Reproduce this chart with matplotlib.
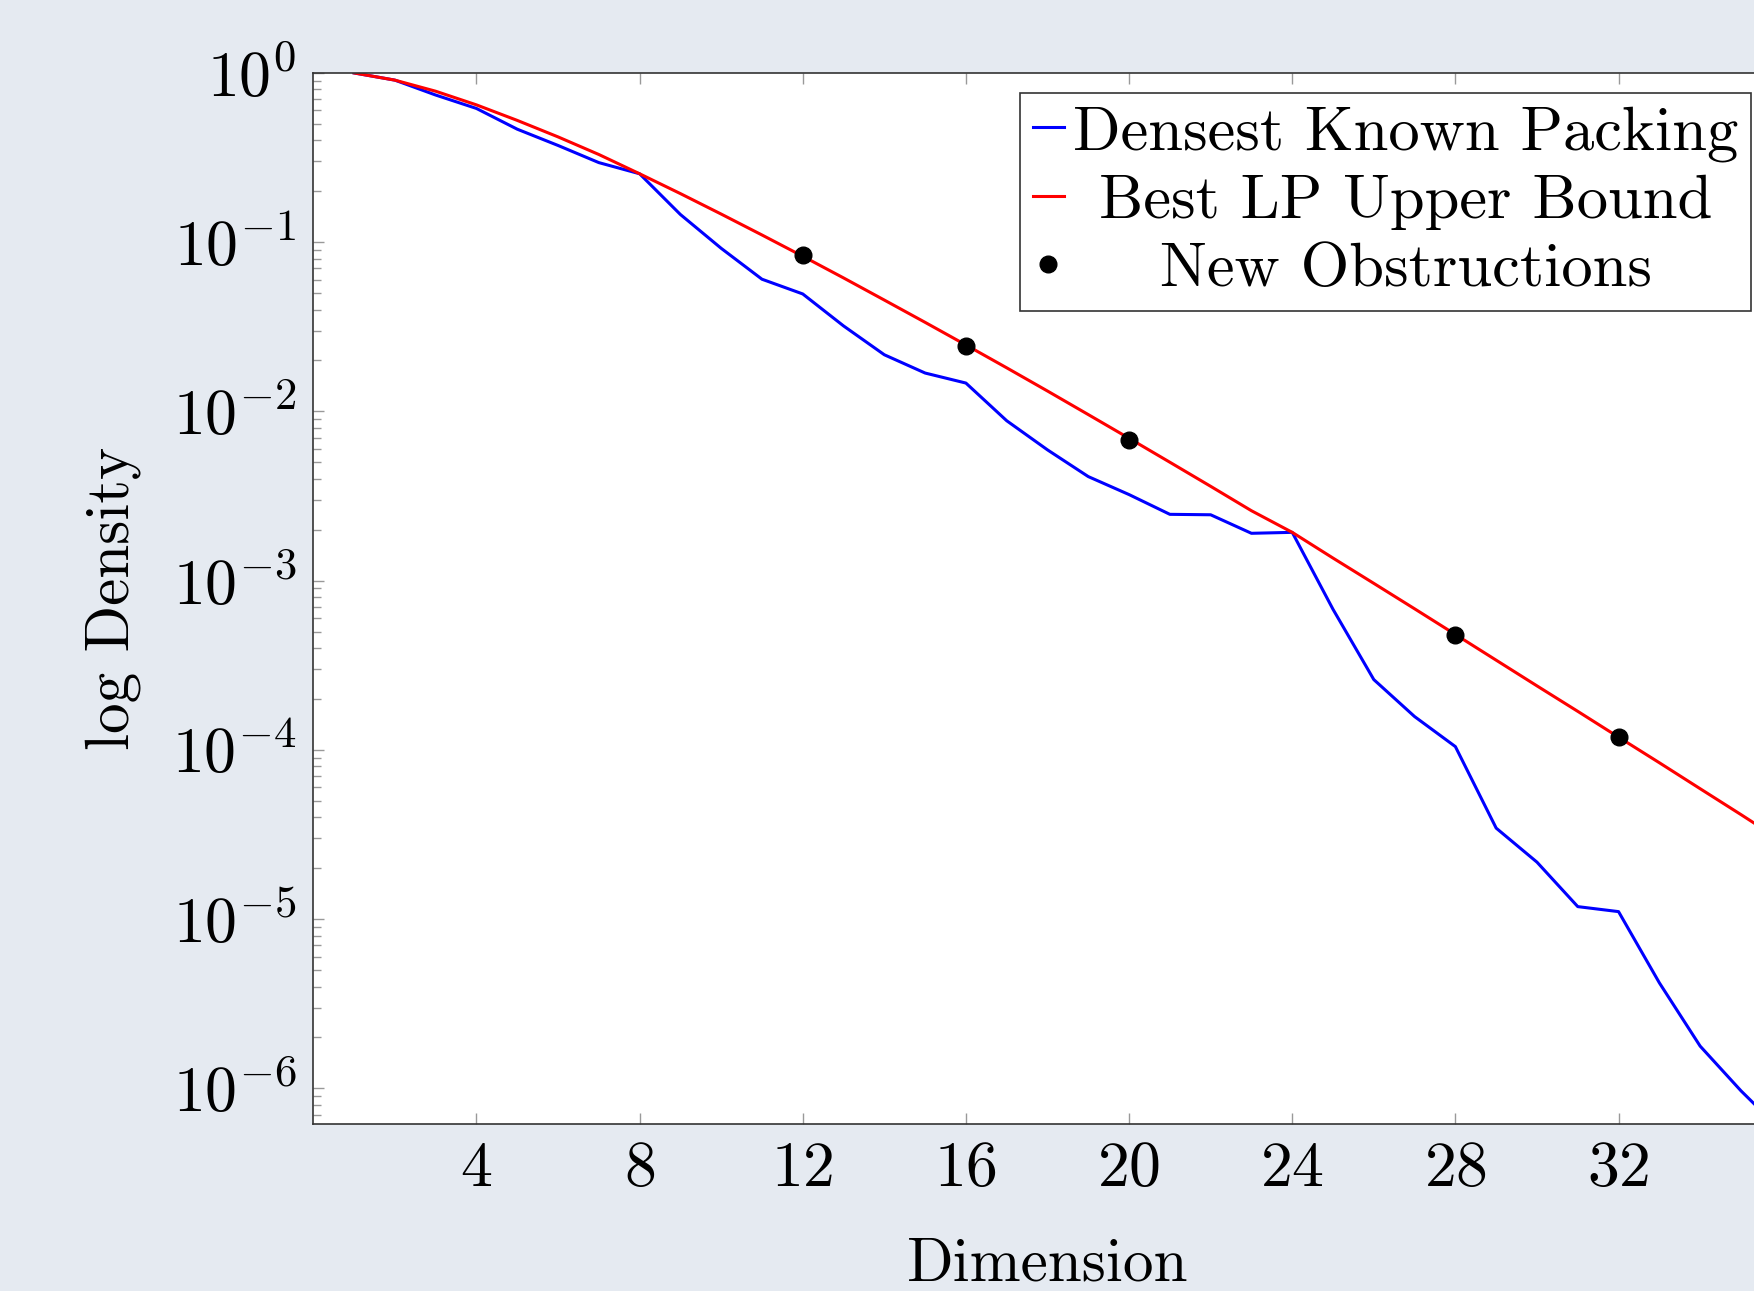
import matplotlib
matplotlib.use("Agg")
import matplotlib.pyplot as plt
import numpy as np

plt.rcParams['font.family'] = 'cmr10'
plt.rcParams['mathtext.fontset'] = 'cm'
plt.rcParams['axes.formatter.use_mathtext'] = True

dims = np.arange(1, 37)
densest = np.array([1.0, 0.9069, 0.7405, 0.6169, 0.4653, 0.3729, 0.2953, 0.2537,
                    0.1458, 0.09202, 0.06043, 0.04945, 0.03201, 0.02162, 0.01686, 0.01471,
                    0.008811, 0.005928, 0.004121, 0.003226, 0.002466, 0.002451, 0.001905, 0.001930,
                    6.772e-4, 2.603e-4, 1.574e-4, 1.046e-4, 3.451e-5, 2.172e-5, 1.186e-5, 1.108e-5,
                    4.207e-6, 1.778e-6, 9.685e-7, 5.6e-7])
lp_bound = np.array([1.0, 0.9069, 0.7799, 0.6477, 0.5244, 0.4190, 0.3298, 0.2537,
                     0.1937, 0.1466, 0.1103, 0.0826, 0.0615, 0.0455, 0.0336, 0.0247,
                     0.0181, 0.0132, 0.00958, 0.00694, 0.00501, 0.00361, 0.00259, 0.00193,
                     0.00136, 9.64e-4, 6.82e-4, 4.81e-4, 3.39e-4, 2.39e-4, 1.69e-4, 1.19e-4,
                     8.4e-5, 5.9e-5, 4.15e-5, 2.9e-5])
obs_dims = np.array([12, 16, 20, 28, 32])
obs_vals = np.array([0.0837, 0.0245, 0.0068, 0.00048, 0.00012])
xticks = [4, 8, 12, 16, 20, 24, 28, 32]

bg = '#E5EAF1'
fig = plt.figure(figsize=(17.54, 12.91), dpi=100, facecolor=bg)
ax = fig.add_axes([0.1786, 0.1294, 0.8372, 0.8141])

ax.plot(dims, densest, color='blue', lw=2.2, label='Densest Known Packing')
ax.plot(dims, lp_bound, color='red', lw=2.2, label='Best LP Upper Bound')
ax.plot(obs_dims, obs_vals, 'o', color='black', ms=12, label='New Obstructions', zorder=5)

ax.set_yscale('log')
ax.set_xlim(0, 36)
ax.set_ylim(10**-6.21, 1)
ax.set_xticks(xticks)
ax.tick_params(which='both', direction='in', top=True, right=True, color='#999999',
               labelsize=46, pad=12)
ax.tick_params(which='major', length=8, width=1)
ax.tick_params(which='minor', length=5.5, width=1)
for s in ax.spines.values():
    s.set_color('#333333')
    s.set_linewidth(1.2)

ax.set_xlabel('Dimension', fontsize=44, labelpad=28)
ax.set_ylabel('log Density', fontsize=44, labelpad=22)

leg = ax.legend(loc='upper right', bbox_to_anchor=(1751 / 1754, 1 - 93 / 1291),
                bbox_transform=fig.transFigure, borderaxespad=0, fontsize=45,
                fancybox=False, edgecolor='#333333', framealpha=1,
                handlelength=0.5, handletextpad=0.15, labelspacing=0.2,
                borderpad=0.2)
leg.get_frame().set_linewidth(1.2)

# centre the legend labels like the original
fig.canvas.draw()
r = fig.canvas.get_renderer()
widths = [t.get_window_extent(r).width for t in leg.get_texts()]
for t, w in zip(leg.get_texts(), widths):
    t.set_x((max(widths) - w) / 2)

fig.savefig('out.png', dpi=100, facecolor=bg)
